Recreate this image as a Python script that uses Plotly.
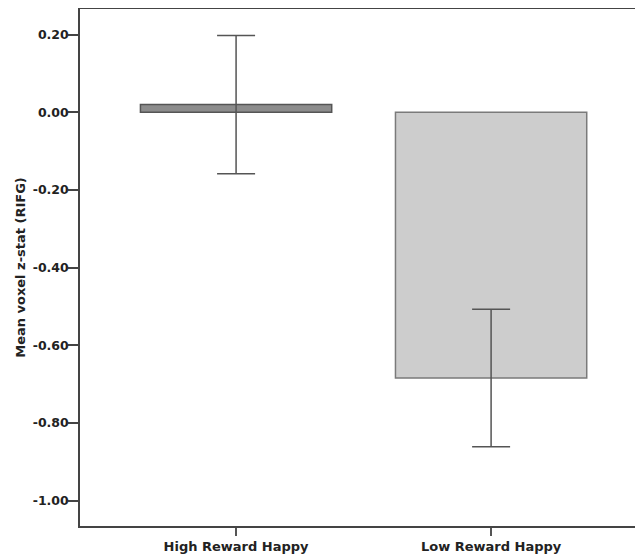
import plotly.graph_objects as go

categories = ["High Reward Happy", "Low Reward Happy"]
means = [0.020, -0.684]
errors = [0.178, 0.177]
bar_colors = ["#8c8c8c", "#cdcdcd"]
tick_vals = [0.2, 0.0, -0.2, -0.4, -0.6, -0.8, -1.0]
tick_text = ["0.20", "0.00", "-0.20", "-0.40", "-0.60", "-0.80", "-1.00"]

FONT = "DejaVu Sans, Arial, sans-serif"

fig = go.Figure()
fig.add_trace(go.Bar(
    x=[0, 1],
    y=means,
    width=0.75,
    marker=dict(color=bar_colors, line=dict(color=["#555555", "#7a7a7a"], width=1.5)),
    error_y=dict(type="data", array=errors, visible=True, color="#555555", thickness=1.5, width=19),
    showlegend=False,
))

fig.update_layout(
    width=643, height=555,
    margin=dict(l=72, r=0, t=1, b=37, autoexpand=False),
    plot_bgcolor="white", paper_bgcolor="white",
    font=dict(family=FONT, size=13, color="#222222"),
    xaxis=dict(
        range=[-0.612, 1.627],
        tickvals=[0, 1],
        ticktext=["<b>%s</b>" % c for c in categories],
        ticks="outside", ticklen=8, tickcolor="#555555", tickwidth=1.5,
        showline=True, linecolor="#444444", linewidth=1.5, mirror=True,
        showgrid=False, zeroline=False, automargin=False,
        tickfont=dict(family=FONT, size=13, color="#222222"),
    ),
    yaxis=dict(
        range=[-1.065, 0.266],
        tickvals=tick_vals,
        ticktext=["<b>%s</b>" % t for t in tick_text],
        ticks="outside", ticklen=10, tickcolor="#444444", tickwidth=1.5,
        ticklabelstandoff=-3,
        showline=True, linecolor="#444444", linewidth=1.5,
        showgrid=False, zeroline=False, automargin=False,
        title=dict(text="<b>Mean voxel z-stat (RIFG)</b>", standoff=4,
                   font=dict(family=FONT, size=13, color="#222222")),
        tickfont=dict(family=FONT, size=12.5, color="#222222"),
    ),
)

fig.write_html("out.html")
